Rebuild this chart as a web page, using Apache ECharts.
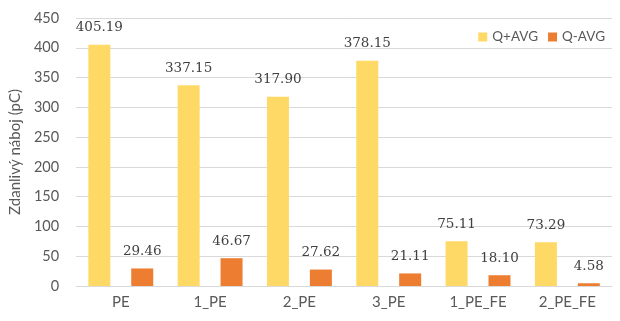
<!DOCTYPE html>
<html>
<head>
<meta charset="utf-8">
<script src="https://cdn.jsdelivr.net/npm/echarts@6/dist/echarts.min.js"></script>
<style>
html,body{margin:0;padding:0;background:#fff;}
#chart{width:620px;height:321px;}
</style>
</head>
<body>
<div id="chart"></div>
<script>
const categories = ['PE', '1_PE', '2_PE', '3_PE', '1_PE_FE', '2_PE_FE'];
const qPlusAvg = [405.19, 337.15, 317.90, 378.15, 75.11, 73.29];
const qMinusAvg = [29.46, 46.67, 27.62, 21.11, 18.10, 4.58];
const seriesNames = ['Q+AVG', 'Q-AVG'];
const yTicks = { min: 0, max: 450, interval: 50 };

const font = 'Lato, "Open Sans", sans-serif';
const valueFont = '"DejaVu Serif", serif';
const chart = echarts.init(document.getElementById('chart'), null, { renderer: 'canvas' });

const labelStyle = {
  show: true,
  position: 'top',
  distance: 10,
  color: '#404040',
  fontFamily: valueFont,
  fontSize: 13.5,
  formatter: p => p.value.toFixed(2)
};

chart.setOption({
  animation: false,
  grid: { left: 76, right: 8, top: 18, bottom: 35 },
  legend: {
    data: seriesNames,
    top: 25,
    right: 10,
    itemWidth: 9,
    itemHeight: 9,
    itemGap: 10,
    icon: 'rect',
    textStyle: { color: '#595959', fontFamily: font, fontSize: 13.5 }
  },
  xAxis: {
    type: 'category',
    data: categories,
    axisLine: { lineStyle: { color: '#D9D9D9' } },
    axisTick: { show: false },
    axisLabel: { color: '#595959', fontFamily: font, fontSize: 15, margin: 9 }
  },
  yAxis: {
    type: 'value',
    min: yTicks.min,
    max: yTicks.max,
    interval: yTicks.interval,
    name: 'Zdanlivý náboj (pC)',
    nameLocation: 'middle',
    nameGap: 47,
    nameTextStyle: { color: '#595959', fontFamily: font, fontSize: 15 },
    axisLine: { show: false },
    axisTick: { show: false },
    axisLabel: { color: '#595959', fontFamily: font, fontSize: 14.5, margin: 17 },
    splitLine: { lineStyle: { color: '#D9D9D9' } }
  },
  series: [
    {
      name: seriesNames[0],
      type: 'bar',
      data: qPlusAvg,
      barWidth: 22,
      barGap: '95%',
      itemStyle: { color: '#FFD966' },
      label: labelStyle
    },
    {
      name: seriesNames[1],
      type: 'bar',
      data: qMinusAvg,
      barWidth: 22,
      itemStyle: { color: '#ED7D31' },
      label: labelStyle
    }
  ]
});
</script>
</body>
</html>
